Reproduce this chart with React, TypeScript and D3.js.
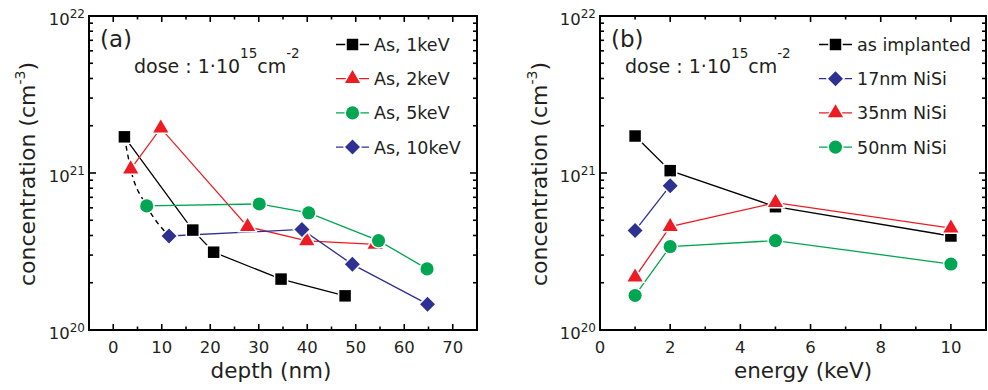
import React, { useEffect, useRef } from "react";
import * as d3 from "d3";

// panel (a): As depth profile peaks vs depth, one series per implant energy
const depth1keV = [2.3, 16.4, 20.7, 34.6, 47.8];
const conc1keV = [1.7e21, 4.33e20, 3.13e20, 2.11e20, 1.65e20];
const depth2keV = [3.6, 9.8, 27.7, 39.9, 54.0];
const conc2keV = [1.06e21, 1.93e21, 4.55e20, 3.69e20, 3.51e20];
const depth5keV = [6.9, 30.1, 40.3, 54.7, 64.7];
const conc5keV = [6.17e20, 6.35e20, 5.58e20, 3.71e20, 2.45e20];
const depth10keV = [11.5, 38.9, 49.3, 64.8];
const conc10keV = [3.97e20, 4.37e20, 2.62e20, 1.46e20];

// panel (b): concentration vs implant energy for each silicide thickness
const energyImpl = [1, 2, 5, 10];
const concImpl = [1.72e21, 1.035e21, 6.1e20, 3.97e20];
const energy17 = [1, 2];
const conc17 = [4.3e20, 8.3e20];
const energy35 = [1, 2, 5, 10];
const conc35 = [2.17e20, 4.55e20, 6.47e20, 4.45e20];
const energy50 = [1, 2, 5, 10];
const conc50 = [1.66e20, 3.4e20, 3.71e20, 2.63e20];

const depthTicks = [0, 10, 20, 30, 40, 50, 60, 70];
const depthMinor = [-5, 5, 15, 25, 35, 45, 55, 65, 75];
const energyTicks = [0, 2, 4, 6, 8, 10];
const energyMinor = [1, 3, 5, 7, 9, 11];
const decades = [20, 21, 22];

const FONT = "'DejaVu Sans', sans-serif";
const TXT = "#231f20";
const BLACK = "#000000";
const RED = "#ed1c24";
const GREEN = "#00a651";
const BLUE = "#2e3192";

type Series = { name: string; x: number[]; y: number[]; color: string; shape: string };

const seriesA: Series[] = [
  { name: "As, 1keV", x: depth1keV, y: conc1keV, color: BLACK, shape: "square" },
  { name: "As, 2keV", x: depth2keV, y: conc2keV, color: RED, shape: "triangle" },
  { name: "As, 5keV", x: depth5keV, y: conc5keV, color: GREEN, shape: "circle" },
  { name: "As, 10keV", x: depth10keV, y: conc10keV, color: BLUE, shape: "diamond" },
];

const seriesB: Series[] = [
  { name: "as implanted", x: energyImpl, y: concImpl, color: BLACK, shape: "square" },
  { name: "17nm NiSi", x: energy17, y: conc17, color: BLUE, shape: "diamond" },
  { name: "35nm NiSi", x: energy35, y: conc35, color: RED, shape: "triangle" },
  { name: "50nm NiSi", x: energy50, y: conc50, color: GREEN, shape: "circle" },
];

const symbolPath = (shape: string) => {
  if (shape === "square") return d3.symbol(d3.symbolSquare, 132)();
  if (shape === "triangle") return d3.symbol(d3.symbolTriangle, 100)();
  if (shape === "circle") return d3.symbol(d3.symbolCircle, 135)();
  return d3.symbol(d3.symbolSquare, 112)();
};

const drawMarker = (g: any, shape: string, x: number, y: number, color: string) => {
  g.append("path")
    .attr("d", symbolPath(shape))
    .attr("transform", `translate(${x},${y})` + (shape === "diamond" ? " rotate(45)" : ""))
    .attr("fill", color)
    .attr("stroke", "#fff")
    .attr("stroke-width", 3)
    .attr("paint-order", "stroke");
};

const drawPanel = (svg: any, cfg: any) => {
  const { left, right, top, bottom, xDomain, xTicks, xMinor, series } = cfg;
  const x = d3.scaleLinear().domain(xDomain).range([left, right]);
  const y = d3.scaleLog().domain([1e20, 1e22]).range([bottom, top]);
  const g = svg.append("g");

  // ticks on all four sides, pointing inward
  const minorY = y.ticks().filter((v) => !decades.includes(Math.round(Math.log10(v) * 1000) / 1000));
  const tick = (x1: number, y1: number, x2: number, y2: number) =>
    g.append("line").attr("x1", x1).attr("y1", y1).attr("x2", x2).attr("y2", y2)
      .attr("stroke", "#000").attr("stroke-width", 1.6);
  xTicks.forEach((v: number) => { tick(x(v), bottom, x(v), bottom - 6); tick(x(v), top, x(v), top + 6); });
  xMinor.filter((v: number) => v > xDomain[0] && v < xDomain[1]).forEach((v: number) => {
    tick(x(v), bottom, x(v), bottom - 3.5); tick(x(v), top, x(v), top + 3.5);
  });
  decades.forEach((e) => { tick(left, y(10 ** e), left + 7, y(10 ** e)); tick(right, y(10 ** e), right - 7, y(10 ** e)); });
  minorY.forEach((v) => { tick(left, y(v), left + 4, y(v)); tick(right, y(v), right - 4, y(v)); });

  g.append("rect").attr("x", left).attr("y", top).attr("width", right - left).attr("height", bottom - top)
    .attr("fill", "none").attr("stroke", "#000").attr("stroke-width", 2);

  // tick labels
  xTicks.forEach((v: number) => {
    g.append("text").attr("x", x(v)).attr("y", bottom + 23).attr("text-anchor", "middle")
      .attr("font-family", FONT).attr("font-size", 16.5).attr("fill", TXT).text(v);
  });
  decades.forEach((e) => {
    const t = g.append("text").attr("x", left - 4).attr("y", y(10 ** e) + 8.5).attr("text-anchor", "end")
      .attr("font-family", FONT).attr("font-size", 16.5).attr("fill", TXT);
    t.append("tspan").text("10");
    t.append("tspan").attr("font-size", 12).attr("dy", -7).text(e);
  });

  // axis titles
  g.append("text").attr("x", cfg.xTitleX).attr("y", 378).attr("text-anchor", "middle")
    .attr("font-family", FONT).attr("font-size", 21.5).attr("fill", TXT).text(cfg.xTitle);
  const yt = g.append("text").attr("transform", `translate(${cfg.yTitleX},286) rotate(-90)`)
    .attr("font-family", FONT).attr("font-size", 22).attr("fill", TXT);
  yt.append("tspan").text("concentration (cm");
  yt.append("tspan").attr("font-size", 14).attr("dy", -10).text("-3");
  yt.append("tspan").attr("dy", 10).text(")");

  // panel letter and dose
  g.append("text").attr("x", left + 11).attr("y", 47).attr("font-family", FONT).attr("font-size", 23)
    .attr("fill", TXT).text(cfg.letter);
  const dose = g.append("text").attr("x", cfg.doseX).attr("y", 73).attr("font-family", FONT)
    .attr("font-size", 19).attr("fill", TXT);
  dose.append("tspan").text("dose : 1\u00b710");
  dose.append("tspan").attr("font-size", 13.5).attr("dy", -15).text("15");
  dose.append("tspan").attr("dy", 15).text("cm");
  dose.append("tspan").attr("font-size", 13.5).attr("dy", -15).text("-2");

  // connecting lines
  series.forEach((s: Series) => {
    const pts = s.x.map((v, i) => [x(v), y(s.y[i])] as [number, number]);
    g.append("path").attr("d", d3.line()(pts)).attr("fill", "none").attr("stroke", s.color)
      .attr("stroke-width", 1.3);
  });
  // dashed guide through the first point of every series
  if (cfg.dashed) {
    const first = series.map((s: Series) => [x(s.x[0]), y(s.y[0])] as [number, number])
      .sort((a: number[], b: number[]) => a[0] - b[0]);
    g.append("path").attr("d", d3.line().curve(d3.curveMonotoneX)(first)).attr("fill", "none")
      .attr("stroke", "#000").attr("stroke-width", 1.4).attr("stroke-dasharray", "5,4");
  }
  series.forEach((s: Series) => {
    s.x.forEach((v, i) => drawMarker(g, s.shape, x(v), y(s.y[i]), s.color));
  });

  // legend
  series.forEach((s: Series, i: number) => {
    const ly = 44.5 + i * 34.2;
    g.append("line").attr("x1", cfg.legX).attr("x2", cfg.legX + 33).attr("y1", ly).attr("y2", ly)
      .attr("stroke", s.color).attr("stroke-width", 1.3);
    drawMarker(g, s.shape, cfg.legX + 16.5, ly, s.color);
    g.append("text").attr("x", cfg.legX + 38).attr("y", ly + 6.5).attr("font-family", FONT)
      .attr("font-size", 17.5).attr("fill", TXT).text(s.name);
  });
};

export default function App() {
  const ref = useRef<SVGSVGElement>(null);

  useEffect(() => {
    document.body.style.margin = "0";
    const svg = d3.select(ref.current);
    svg.selectAll("*").remove();
    drawPanel(svg, {
      left: 89, right: 477, top: 16, bottom: 330, xDomain: [-5, 75],
      xTicks: depthTicks, xMinor: depthMinor, series: seriesA, dashed: true,
      xTitle: "depth (nm)", xTitleX: 271, yTitleX: 35, letter: "(a)", doseX: 134, legX: 336,
    });
    drawPanel(svg, {
      left: 600, right: 986, top: 16, bottom: 330, xDomain: [0, 11],
      xTicks: energyTicks, xMinor: energyMinor, series: seriesB, dashed: false,
      xTitle: "energy (keV)", xTitleX: 803, yTitleX: 547, letter: "(b)", doseX: 625, legX: 819,
    });
  }, []);

  return <svg ref={ref} width={988} height={390} style={{ display: "block", background: "#fff" }} />;
}
